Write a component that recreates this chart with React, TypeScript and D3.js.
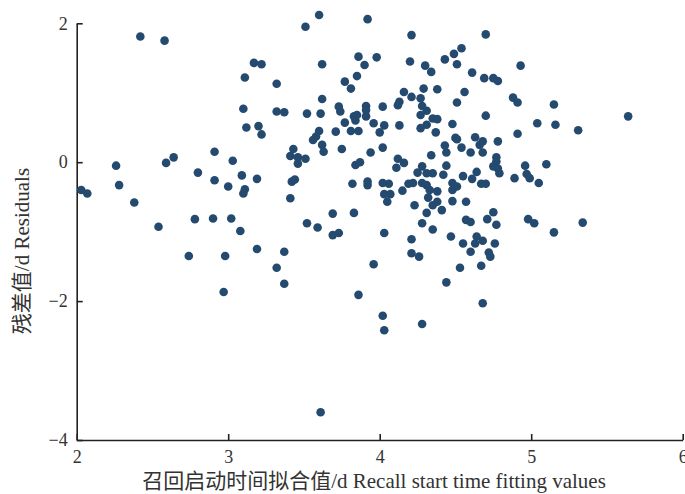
import React, { useRef, useEffect } from "react";
import * as d3 from "d3";

// fitted recall start time (d) and the residual for each case
const fitted = [
  2.42, 2.58, 3.17, 3.22, 3.11, 3.32, 3.10, 3.32, 3.12, 3.20, 3.22, 2.91, 2.64, 2.59, 3.03, 2.26,
  2.80, 2.91, 3.09, 3.19, 3.00, 3.11, 3.10, 2.03, 2.07, 2.28, 2.38, 2.78, 2.90, 3.02, 2.54, 3.08,
  2.74, 2.98, 3.19, 3.37, 3.32, 3.37, 2.97, 3.42, 3.44, 3.41, 3.84, 3.87, 3.82, 3.92, 3.92, 3.52,
  3.59, 3.69, 3.83, 3.69, 3.73, 3.86, 4.02, 4.06, 4.03, 4.07, 4.05, 4.11, 4.16, 4.15, 4.19, 4.22,
  4.23, 4.25, 4.28, 4.31, 4.35, 4.28, 4.31, 4.33, 4.38, 4.32, 4.38, 4.35, 4.41, 4.31, 4.42, 4.44,
  4.48, 4.51, 4.48, 4.48, 4.55, 4.57, 4.61, 4.64, 4.67, 4.70, 4.03, 4.28, 4.35, 4.21, 4.47, 4.57,
  4.60, 4.64, 4.63, 4.55, 4.60, 4.21, 4.26, 3.96, 4.44, 4.53, 4.67, 4.68, 4.76, 4.72, 4.73, 3.60,
  3.51, 3.92, 4.21, 3.86, 3.90, 3.98, 3.62, 3.77, 3.85, 3.81, 4.20, 4.30, 4.34, 4.43, 4.49, 4.54,
  4.51, 4.61, 4.16, 4.21, 4.29, 4.38, 4.56, 3.62, 3.37, 3.52, 3.61, 3.73, 3.74, 3.91, 3.91, 4.02,
  4.13, 4.12, 4.27, 4.28, 4.31, 4.27, 4.35, 4.38, 4.51, 4.48, 3.83, 3.85, 3.91, 3.77, 3.84, 3.96,
  4.03, 4.00, 4.13, 3.71, 3.81, 3.86, 3.60, 3.58, 3.56, 4.27, 4.31, 4.37, 4.50, 4.51, 4.63, 4.66,
  4.68, 3.62, 3.63, 3.75, 4.02, 3.94, 4.43, 4.44, 4.54, 4.60, 4.34, 3.43, 3.41, 3.46, 3.51, 3.46,
  4.12, 4.70, 4.93, 4.69, 4.75, 4.78, 4.88, 4.91, 5.15, 4.70, 5.04, 5.16, 5.31, 5.64, 4.91, 4.78,
  4.68, 4.77, 4.77, 4.75, 4.78, 4.79, 4.96, 5.10, 4.89, 4.97, 4.99, 5.05, 4.75, 4.71, 4.77, 4.98,
  5.02, 5.15, 5.34, 4.68, 4.02, 4.03, 4.28, 3.61,
];

const residuals = [
  1.81, 1.75, 1.43, 1.41, 1.22, 1.13, 0.77, 0.73, 0.50, 0.52, 0.40, 0.15, 0.07, -0.01, 0.02, -0.05,
  -0.15, -0.26, -0.19, -0.24, -0.35, -0.39, -0.45, -0.40, -0.45, -0.33, -0.58, -0.82, -0.81, -0.81, -0.93, -0.99,
  -1.35, -1.35, -1.25, -1.29, -1.52, -1.75, -1.87, -0.28, -0.25, -0.52, -0.04, 0.00, -0.31, -0.28, -0.33, -0.88,
  -0.94, -0.74, -0.73, -1.05, -1.02, -1.91, -0.30, -0.31, -0.46, -0.46, -0.57, -0.08, -0.01, -0.41, -0.31, -0.30,
  -0.62, -0.15, -0.06, -0.16, -0.16, -0.30, -0.33, -0.40, -0.42, -0.51, -0.57, -0.62, -0.69, -0.73, -0.18, -0.05,
  -0.30, -0.35, -0.40, -0.56, -0.20, -0.57, -0.24, -0.14, -0.31, -0.31, -1.02, -0.88, -0.97, -1.11, -1.07, -0.83,
  -0.86, -1.07, -1.17, -1.17, -1.29, -1.31, -1.36, -1.47, -1.73, -1.52, -1.49, -1.13, -1.17, -1.30, -1.36, 2.12,
  1.95, 2.06, 1.83, 1.52, 1.40, 1.51, 1.41, 1.16, 1.24, 1.06, 1.45, 1.39, 1.30, 1.48, 1.56, 1.64,
  1.41, 1.29, 1.01, 0.94, 1.06, 1.05, 1.01, 0.91, 0.72, 0.70, 0.70, 0.80, 0.73, 0.81, 0.75, 0.80,
  0.87, 0.82, 0.92, 0.81, 0.74, 0.68, 0.63, 0.62, 0.86, 0.55, 0.66, 0.68, 0.66, 0.57, 0.60, 0.56,
  0.53, 0.43, 0.53, 0.44, 0.45, 0.45, 0.45, 0.37, 0.32, 0.49, 0.54, 0.43, 0.35, 0.33, 0.36, 0.25,
  0.30, 0.25, 0.15, 0.19, 0.21, 0.14, 0.24, 0.14, 0.21, 0.14, 0.10, 0.19, 0.09, 0.07, 0.05, -0.02,
  0.05, 1.84, 1.39, 1.21, 1.21, 1.17, 0.93, 0.86, 0.83, 0.67, 0.56, 0.54, 0.46, 0.66, 0.41, 0.30,
  0.14, 0.07, 0.01, -0.06, -0.09, -0.16, -0.05, -0.03, -0.23, -0.17, -0.23, -0.30, -0.72, -0.82, -0.90, -0.82,
  -0.88, -1.01, -0.87, -2.03, -2.21, -2.42, -2.33, -3.60,
];

const xTicks = [2, 3, 4, 5, 6];
const yTicks = [-4, -2, 0, 2];
const xTitle = "召回启动时间拟合值/d Recall start time fitting values";
const yTitle = "残差值/d Residuals";

const W = 685;
const H = 494;
const FONT = "'Liberation Serif', 'Noto Sans CJK SC', serif";

const App = () => {
  const ref = useRef<SVGSVGElement>(null);

  useEffect(() => {
    const svg = d3.select(ref.current);
    svg.selectAll("*").remove();

    const x = d3.scaleLinear().domain([2, 6]).range([76.7, 682.7]);
    const y = d3.scaleLinear().domain([-4, 2]).range([440, 23.3]);

    const fmt = (d: number) => (d < 0 ? "\u2212" + Math.abs(d) : String(d));

    const gx = svg.append("g")
      .attr("transform", `translate(0,${y(-4)})`)
      .call(d3.axisBottom(x).tickValues(xTicks).tickSizeInner(-6).tickSizeOuter(0).tickPadding(10).tickFormat(fmt as any));
    const gy = svg.append("g")
      .attr("transform", `translate(${x(2)},0)`)
      .call(d3.axisLeft(y).tickValues(yTicks).tickSizeInner(-6).tickSizeOuter(0).tickPadding(9).tickFormat(fmt as any));

    [gx, gy].forEach(g => {
      g.attr("font-family", FONT).attr("font-size", 18);
      g.selectAll("path, line").attr("stroke", "#222").attr("stroke-width", 1.6);
      g.selectAll("text").attr("fill", "#333");
    });

    // points
    svg.append("g")
      .selectAll("circle")
      .data(fitted.map((f, i) => [f, residuals[i]]))
      .join("circle")
      .attr("cx", d => x(d[0]))
      .attr("cy", d => y(d[1]))
      .attr("r", 4.3)
      .attr("fill", "#254a6f");

    svg.append("text")
      .attr("x", 374)
      .attr("y", 488)
      .attr("text-anchor", "middle")
      .attr("font-family", FONT)
      .attr("font-size", 21)
      .attr("fill", "#333")
      .text(xTitle);

    svg.append("text")
      .attr("transform", `translate(29,251) rotate(-90)`)
      .attr("text-anchor", "middle")
      .attr("font-family", FONT)
      .attr("font-size", 21)
      .attr("fill", "#333")
      .text(yTitle);
  }, []);

  return (
    <svg
      ref={ref}
      width={W}
      height={H}
      style={{ position: "absolute", left: 0, top: 0, background: "#fff" }}
    />
  );
};

export default App;
